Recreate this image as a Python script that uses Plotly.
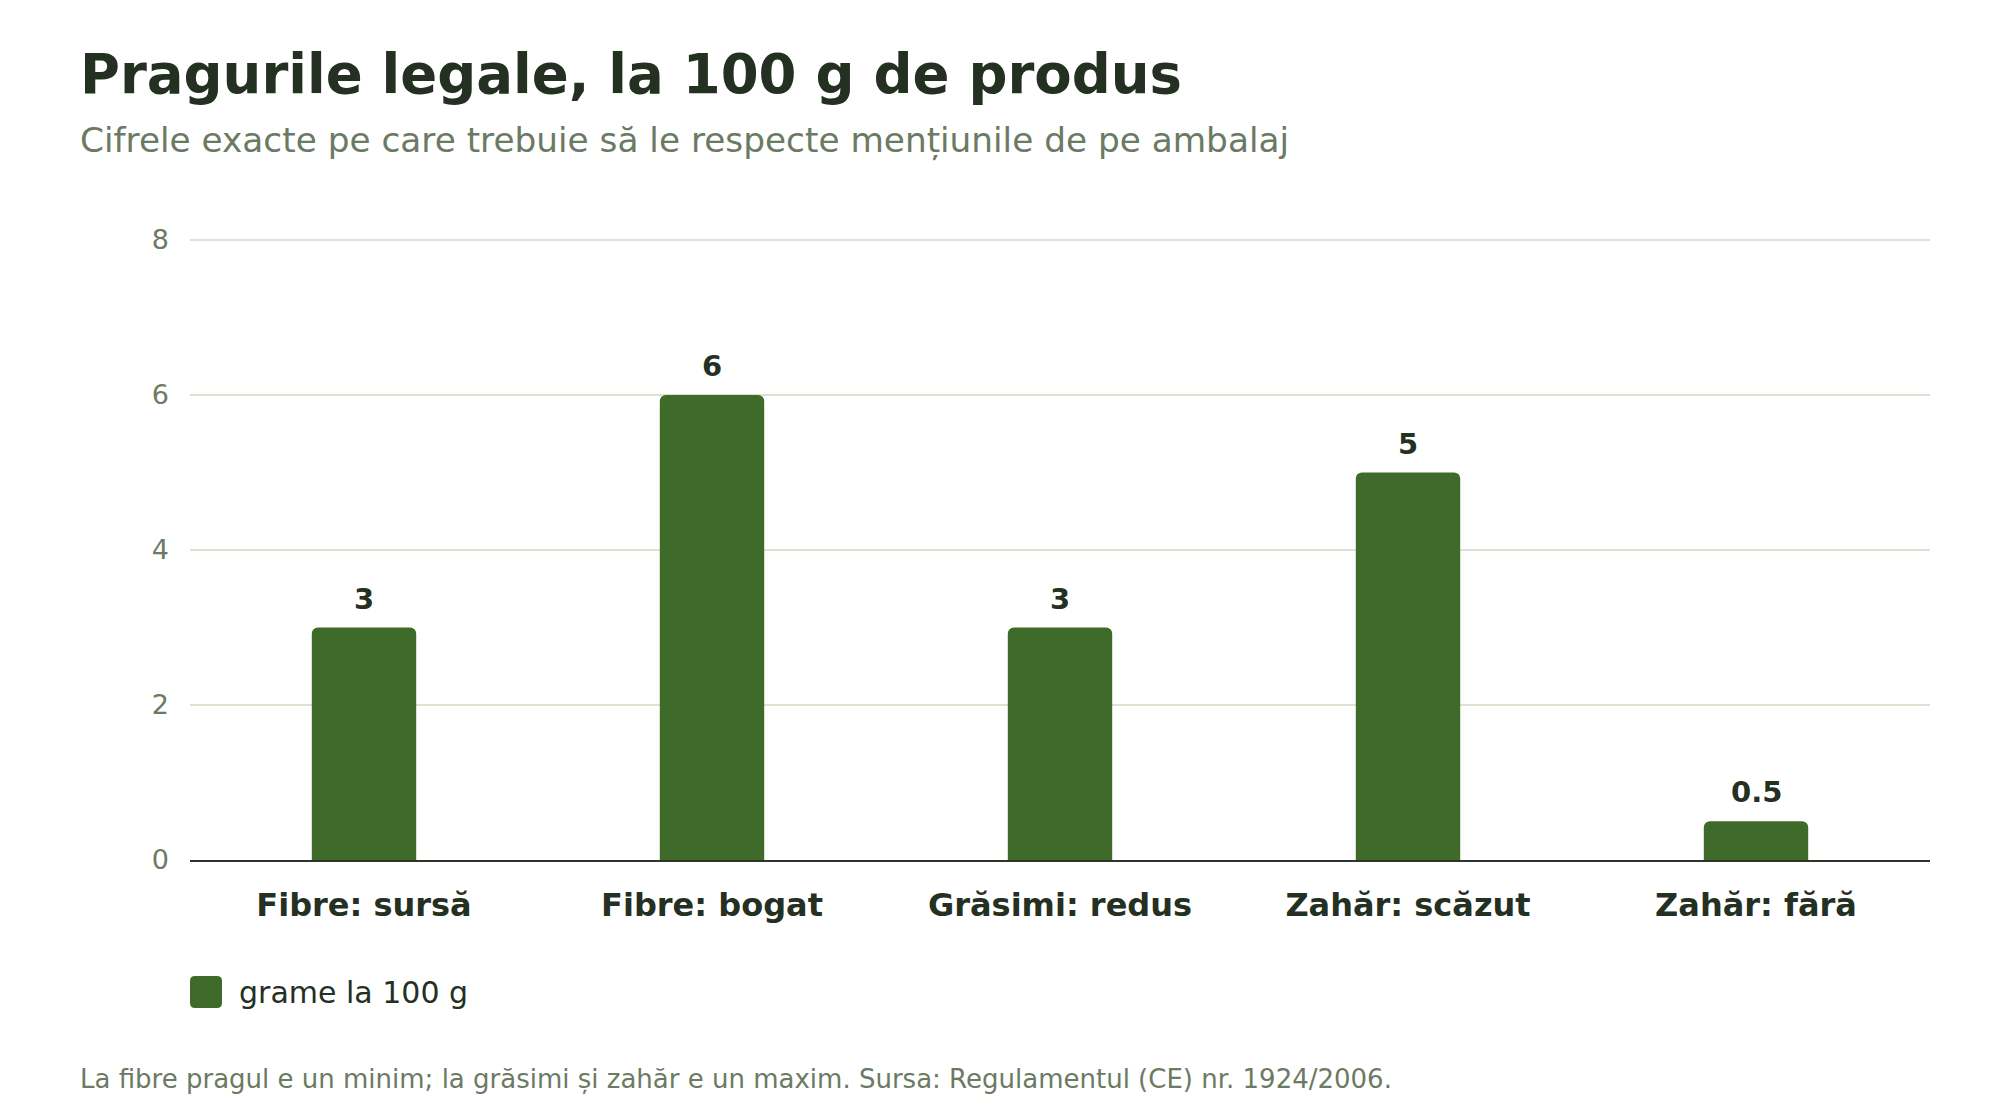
import plotly.graph_objects as go

categories = ["Fibre: sursă", "Fibre: bogat", "Grăsimi: redus", "Zahăr: scăzut", "Zahăr: fără"]
values = [3, 6, 3, 5, 0.5]
value_labels = ["3", "6", "3", "5", "0.5"]
series_name = "grame la 100 g"
y_ticks = [0, 2, 4, 6, 8]

title_text = "Pragurile legale, la 100 g de produs"
subtitle_text = "Cifrele exacte pe care trebuie să le respecte mențiunile de pe ambalaj"
footnote_text = "La fibre pragul e un minim; la grăsimi și zahăr e un maxim. Sursa: Regulamentul (CE) nr. 1924/2006."

FONT = "DejaVu Sans"
DARK = "#243021"
MUTED = "#6b7a63"
BAR = "#3e6b2a"
GRID = "#dde3d2"

W, H = 2000, 1120
Y0_PX, Y8_PX = 860, 240
UNIT = (Y0_PX - Y8_PX) / 8.0
ML, MR, MB = 190, 70, H - Y0_PX
MT = Y8_PX - 4
Y_TOP = 8 + 4 / UNIT
PW = W - ML - MR
PH = H - MT - MB

def py(px):
    return (H - MB - px) / PH

def pxx(px):
    return (px - ML) / PW

fig = go.Figure()
fig.add_trace(go.Bar(
    x=categories, y=values, name=series_name,
    marker=dict(color=BAR, cornerradius=6, line=dict(width=0)),
    showlegend=False,
))

for c, v, t in zip(categories, values, value_labels):
    fig.add_annotation(
        x=c, y=v, xref="x", yref="y", text=f"<b>{t}</b>", showarrow=False,
        xanchor="center", yanchor="bottom", yshift=10,
        font=dict(family=FONT, size=29, color=DARK),
    )

fig.update_layout(
    width=W, height=H,
    margin=dict(l=ML, r=MR, t=MT, b=MB),
    paper_bgcolor="white", plot_bgcolor="white",
    bargap=0.7,
    font=dict(family=FONT),
    title=dict(
        text=f"<b>{title_text}</b>",
        font=dict(family=FONT, size=54.5, color=DARK),
        x=80 / W, xanchor="left", xref="container",
        y=1 - 74 / H, yanchor="middle", yref="container",
    ),
    xaxis=dict(
        showgrid=False, ticks="", showline=True, linecolor="#2b3628", linewidth=2,
        tickfont=dict(family=FONT, size=32, color=DARK, weight="bold"),
        ticklabelstandoff=16,
    ),
    yaxis=dict(
        range=[0, Y_TOP], tickvals=y_ticks, showgrid=True, gridcolor=GRID, gridwidth=1.5,
        zeroline=False, showline=False, ticks="",
        tickfont=dict(family=FONT, size=27, color=MUTED),
        ticklabelstandoff=20,
    ),
    showlegend=False,
)

fig.add_annotation(
    text=subtitle_text, xref="paper", yref="paper",
    x=pxx(78), y=py(140), xanchor="left", yanchor="middle", showarrow=False,
    font=dict(family=FONT, size=34.3, color=MUTED),
)
fig.add_annotation(
    text=footnote_text, xref="paper", yref="paper",
    x=pxx(78), y=py(1079), xanchor="left", yanchor="middle", showarrow=False,
    font=dict(family=FONT, size=26, color=MUTED),
)
# legend swatch + label
r = 5
s = 32
path = (f"M {r},0 H {s-r} Q {s},0 {s},{r} V {s-r} Q {s},{s} {s-r},{s} H {r} "
        f"Q 0,{s} 0,{s-r} V {r} Q 0,0 {r},0 Z")
fig.add_shape(
    type="path", xref="paper", yref="paper", xsizemode="pixel", ysizemode="pixel",
    xanchor=0, yanchor=py(1008), path=path, fillcolor=BAR, line=dict(width=0),
)
fig.add_annotation(
    text=series_name, xref="paper", yref="paper",
    x=pxx(237), y=py(992), xanchor="left", yanchor="middle", showarrow=False,
    font=dict(family=FONT, size=30, color=DARK),
)

fig.write_html("out.html", config={"displayModeBar": False},
               post_script="document.body.style.margin='0';")
